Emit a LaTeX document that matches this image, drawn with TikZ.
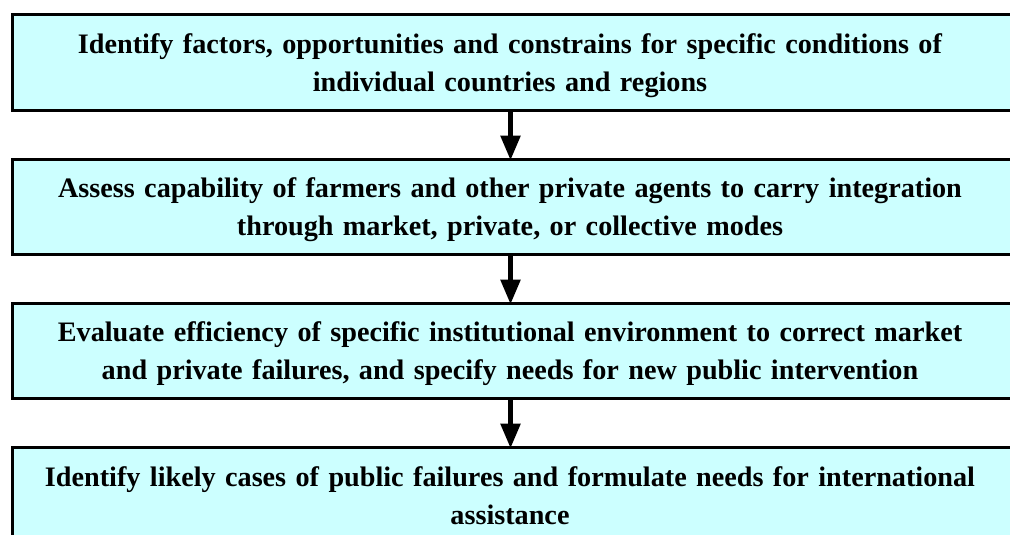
\documentclass[tikz,border=0pt]{standalone}
\usepackage{fontspec}
\setmainfont{Liberation Serif}
\usetikzlibrary{arrows.meta}
\definecolor{boxfill}{HTML}{CCFFFF}
\tikzset{
  stagebox/.style={draw=none, fill=boxfill, rectangle,
    minimum width=998pt, minimum height=95pt, inner sep=0pt, outer sep=0pt},
  boxborder/.style={draw=black, line width=3pt, line join=miter, line cap=butt},
  stagetext/.style={text width=990pt, align=center, anchor=base, inner sep=0pt,
    font=\fontsize{28.2}{38.4}\selectfont\bfseries},
  flowarrow/.style={line width=5.5pt, -{Triangle[length=25pt,width=19pt]}}
}
\begin{document}
\begin{tikzpicture}[x=1pt,y=-1pt]
\path[use as bounding box] (0,0) rectangle (1010,535);
\begin{scope}
\clip (0,0) rectangle (1010,535);
\foreach \n/\y in {b1/62.5, b2/206.5, b3/350.5, b4/494.5}{
  \node[stagebox] (\n) at (511,\y) {};
  \draw[boxborder] (\n.north east) -- (\n.north west) -- (\n.south west) -- (\n.south east);
}
\end{scope}
\node[stagetext] (t1) at (510,53.3) {Identify factors, opportunities and constrains for specific conditions of\\individual countries and regions};
\node[stagetext] (t2) at (510,197.3) {Assess capability of farmers and other private agents to carry integration\\through market, private, or collective modes};
\node[stagetext] (t3) at (510,341.3) {Evaluate efficiency of specific institutional environment to correct market\\and private failures, and specify needs for new public intervention};
\node[stagetext] (t4) at (510,486) {Identify likely cases of public failures and formulate needs for international\\assistance};
\coordinate (ax) at (510.5,0);
\draw[flowarrow] (ax |- b1.south) -- ([yshift=-1.5pt]ax |- b2.north);
\draw[flowarrow] (ax |- b2.south) -- ([yshift=-1.5pt]ax |- b3.north);
\draw[flowarrow] (ax |- b3.south) -- ([yshift=-1.5pt]ax |- b4.north);
\end{tikzpicture}
\end{document}
